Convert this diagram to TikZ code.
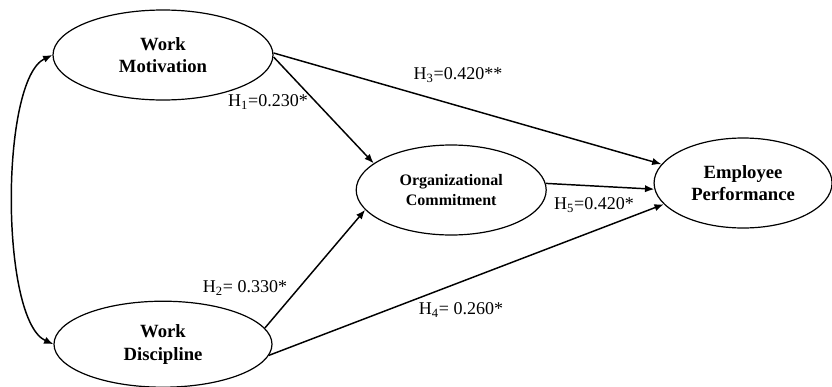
\documentclass[tikz,border=0pt]{standalone}
\usepackage{fontspec}
\setmainfont{Liberation Serif}
\usetikzlibrary{arrows.meta,positioning,shapes.geometric}
\tikzset{
  latent/.style={ellipse, draw, line width=0.9pt, inner sep=0pt, align=center,
                 minimum width=165pt, minimum height=67.5pt,
                 font=\fontsize{14}{17}\selectfont\bfseries},
  path/.style={-{Latex[length=7pt,width=5.5pt]}, line width=1.1pt},
  cov/.style={{Latex[length=7pt,width=5.5pt]}-{Latex[length=7pt,width=5.5pt]}, line width=1.1pt},
  hlab/.style={font=\fontsize{13.5}{15}\selectfont, inner sep=1pt},
}
\begin{document}
\begin{tikzpicture}[x=0.75pt, y=-0.75pt]
    \useasboundingbox (0,0) rectangle (832,386);
    \node[latent] (wm) at (163,55) {Work\\Motivation};
    \node[latent, minimum width=163.5pt, minimum height=64.5pt, below=150pt of wm] (wd) {Work\\Discipline};
    \node[latent, minimum width=142.5pt, right=61.5pt of wm, yshift=-101.25pt,
          font=\fontsize{12}{15}\selectfont\bfseries]                       (oc) {Organizational\\Commitment};
    \node[latent, minimum width=133.5pt, right=80pt of oc, yshift=5.25pt,
          font=\fontsize{14}{16.5}\selectfont\bfseries]                     (ep) {Employee\\Performance};
    \draw[path] ([yshift=-1.5pt]wm.east) -- (oc.161);
    \draw[path] ([yshift=1.5pt]wm.east)  -- (ep.167);
    \draw[path] (wd.9)  -- (oc.193);
    \draw[path] (wd.-6) -- (ep.195);
    \draw[path] (oc.4)  -- (ep.184);
    \draw[cov] (wm.west) .. controls (0,80) and (0,320) .. (wd.west);
    \node[hlab] (h1) at (268,102) {H\textsubscript{1}=0.230*};
    \node[hlab] (h2) at (245,288) {H\textsubscript{2}= 0.330*};
    \node[hlab] (h3) at (458,75)  {H\textsubscript{3}=0.420**};
    \node[hlab] (h4) at (461,310) {H\textsubscript{4}= 0.260*};
    \node[hlab] (h5) at (594,205) {H\textsubscript{5}=0.420*};
\end{tikzpicture}
\end{document}
